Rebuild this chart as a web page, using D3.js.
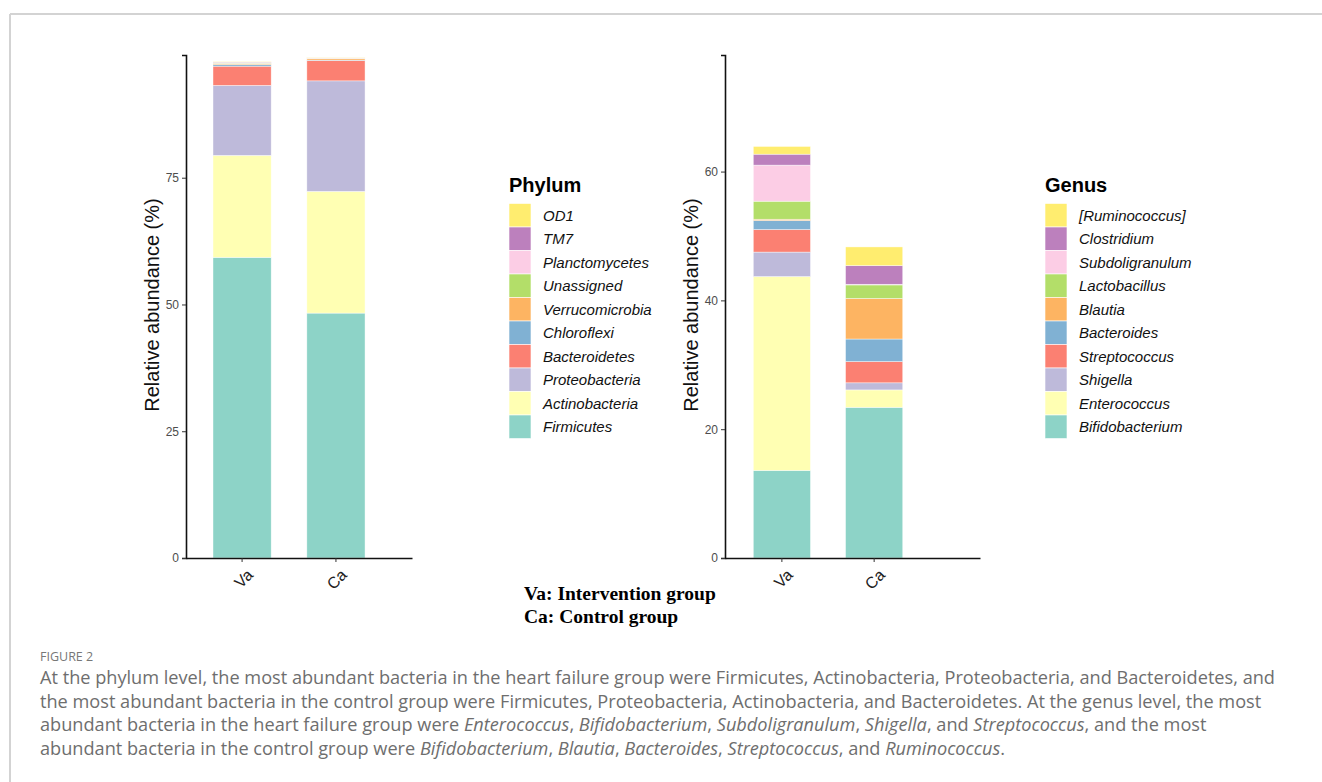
<!DOCTYPE html>
<html>
<head>
<meta charset="utf-8">
<script src="https://cdn.jsdelivr.net/npm/d3@7"></script>
<style>
  body { margin: 0; background: #fff; }
  svg { display: block; }
</style>
</head>
<body>
<svg width="1322" height="782"></svg>
<script>
var width = 1322;
var height = 782;

// groups on the x axis
var groups = ["Va", "Ca"];

// phylum level, bottom to top of the stack
var phyla = ["Firmicutes", "Actinobacteria", "Proteobacteria", "Bacteroidetes", "Chloroflexi",
             "Verrucomicrobia", "Unassigned", "Planctomycetes", "TM7", "OD1"];
var phylumVa = [59.3, 20.1, 13.8, 3.8, 0.3, 0.2, 0.1, 0.1, 0.1, 0.1];
var phylumCa = [48.3, 24.0, 21.8, 4.0, 0.1, 0.3, 0.05, 0.05, 0.05, 0.1];
var phylumTicks = [0, 25, 50, 75];

// genus level, bottom to top of the stack
var genera = ["Bifidobacterium", "Enterococcus", "Shigella", "Streptococcus", "Bacteroides",
              "Blautia", "Lactobacillus", "Subdoligranulum", "Clostridium", "[Ruminococcus]"];
var genusVa = [13.6, 30.1, 3.8, 3.5, 1.4, 0.2, 2.8, 5.6, 1.7, 1.2];
var genusCa = [23.4, 2.7, 1.1, 3.3, 3.5, 6.3, 2.1, 0.1, 2.9, 2.9];
var genusTicks = [0, 20, 40, 60];

var palette = ["#8DD3C7", "#FFFFB3", "#BEBADA", "#FB8072", "#80B1D3",
               "#FDB462", "#B3DE69", "#FCCDE5", "#BC80BD", "#FFED6F"];

var svg = d3.select("svg");

// page frame
svg.append("line").attr("x1", 10).attr("x2", width).attr("y1", 14).attr("y2", 14)
    .attr("stroke", "#d3d3d3").attr("stroke-width", 2);
svg.append("line").attr("x1", 10).attr("x2", 10).attr("y1", 14).attr("y2", height)
    .attr("stroke", "#d3d3d3").attr("stroke-width", 2);

function drawPanel(opts) {
    var keys = opts.keys;
    var rows = groups.map(function (g, i) {
        var row = { group: g };
        keys.forEach(function (k, j) { row[k] = opts.values[i][j]; });
        return row;
    });
    var color = d3.scaleOrdinal().domain(keys).range(palette);

    var x = d3.scaleBand().domain(groups)
        .range([opts.left, opts.right])
        .paddingInner(0.38).paddingOuter(opts.outer).align(opts.align);
    var y = d3.scaleLinear().domain([0, opts.ymax]).range([558, 55]);

    var g = svg.append("g");
    var stack = d3.stack().keys(keys)(rows);

    g.selectAll("g.layer")
        .data(stack)
        .enter()
        .append("g")
        .attr("class", "layer")
        .attr("fill", function (d) { return color(d.key); })
        .selectAll("rect")
        .data(function (d) { return d; })
        .enter()
        .append("rect")
        .attr("x", function (d) { return x(d.data.group); })
        .attr("width", x.bandwidth())
        .attr("y", function (d) { return y(d[1]); })
        .attr("height", function (d) { return Math.max(0, y(d[0]) - y(d[1])); })
        .attr("stroke", "#ffffff")
        .attr("stroke-opacity", 0.7)
        .attr("stroke-width", 0.6);

    // y axis
    var yAxis = g.append("g")
        .attr("transform", "translate(" + opts.left + ",0)")
        .call(d3.axisLeft(y).tickValues(opts.ticks).tickSize(4).tickPadding(3));
    yAxis.select(".domain").attr("stroke", "#111").attr("stroke-width", 1.6);
    yAxis.selectAll(".tick line").attr("stroke", "#333");
    yAxis.selectAll(".tick text").attr("fill", "#4d4d4d")
        .attr("font-family", "Liberation Sans, Arial, sans-serif").attr("font-size", "12px");

    // x axis
    var xAxis = g.append("g")
        .attr("transform", "translate(0,558)")
        .call(d3.axisBottom(x).tickSize(4).tickSizeOuter(0));
    xAxis.select(".domain").attr("stroke", "#111").attr("stroke-width", 1.6);
    xAxis.selectAll(".tick line").attr("stroke", "#333");
    xAxis.selectAll(".tick text")
        .attr("fill", "#222")
        .attr("font-family", "Liberation Sans, Arial, sans-serif")
        .attr("font-size", "16px")
        .attr("text-anchor", "end")
        .attr("dy", null)
        .attr("y", 0)
        .attr("transform", "translate(4,10) rotate(-45)")
        .attr("dominant-baseline", "hanging");

    // y axis title
    g.append("text")
        .attr("transform", "translate(" + opts.titleX + ",305) rotate(-90)")
        .attr("text-anchor", "middle")
        .attr("dominant-baseline", "central")
        .attr("font-family", "Liberation Sans, Arial, sans-serif")
        .attr("font-size", "20px")
        .attr("fill", "#111")
        .text("Relative abundance (%)");

    // legend
    var lg = svg.append("g").attr("transform", "translate(" + opts.legendX + ",0)");
    lg.append("text")
        .attr("x", 0).attr("y", 192)
        .attr("font-family", "Liberation Sans, Arial, sans-serif")
        .attr("font-size", "20px").attr("font-weight", "bold").attr("fill", "#000")
        .text(opts.legendTitle);
    var items = keys.slice().reverse();
    var step = 23.5;
    lg.selectAll("rect.key")
        .data(items)
        .enter()
        .append("rect")
        .attr("class", "key")
        .attr("x", 0)
        .attr("y", function (d, i) { return 203.5 + i * step; })
        .attr("width", 22)
        .attr("height", step)
        .attr("fill", function (d) { return color(d); })
        .attr("stroke", "#fff").attr("stroke-width", 0.6);
    lg.selectAll("text.lab")
        .data(items)
        .enter()
        .append("text")
        .attr("class", "lab")
        .attr("x", opts.labelDx)
        .attr("y", function (d, i) { return 203.5 + i * step + step / 2; })
        .attr("dominant-baseline", "central")
        .attr("font-family", "Liberation Sans, Arial, sans-serif")
        .attr("font-size", "15px").attr("font-style", "italic").attr("fill", "#111")
        .text(function (d) { return d; });
}

drawPanel({
    keys: phyla, values: [phylumVa, phylumCa], ticks: phylumTicks, ymax: 99.2,
    left: 186, right: 412, outer: 0.394, align: 0.365, titleX: 152,
    legendX: 509, labelDx: 34, legendTitle: "Phylum"
});
drawPanel({
    keys: genera, values: [genusVa, genusCa], ticks: genusTicks, ymax: 78.1,
    left: 725, right: 980, outer: 0.572, align: 0.268, titleX: 691,
    legendX: 1045, labelDx: 34, legendTitle: "Genus"
});

// group key
var groupNotes = ["Va: Intervention group", "Ca: Control group"];
svg.selectAll("text.note")
    .data(groupNotes)
    .enter()
    .append("text")
    .attr("class", "note")
    .attr("x", 524)
    .attr("y", function (d, i) { return 600 + i * 23; })
    .attr("font-family", "Liberation Serif, Times New Roman, serif")
    .attr("font-size", "19.5px").attr("font-weight", "bold").attr("fill", "#000")
    .text(function (d) { return d; });

// caption
svg.append("text")
    .attr("x", 40).attr("y", 661)
    .attr("font-family", "Open Sans, sans-serif")
    .attr("font-size", "12.5px").attr("fill", "#777")
    .text("FIGURE 2");

var captionLines = [
    [["At the phylum level, the most abundant bacteria in the heart failure group were Firmicutes, Actinobacteria, Proteobacteria, and Bacteroidetes, and", false]],
    [["the most abundant bacteria in the control group were Firmicutes, Proteobacteria, Actinobacteria, and Bacteroidetes. At the genus level, the most", false]],
    [["abundant bacteria in the heart failure group were ", false], ["Enterococcus", true], [", ", false], ["Bifidobacterium", true], [", ", false],
     ["Subdoligranulum", true], [", ", false], ["Shigella", true], [", and ", false], ["Streptococcus", true], [", and the most", false]],
    [["abundant bacteria in the control group were ", false], ["Bifidobacterium", true], [", ", false], ["Blautia", true], [", ", false],
     ["Bacteroides", true], [", ", false], ["Streptococcus", true], [", and ", false], ["Ruminococcus", true], [".", false]]
];

var captionTexts = captionLines.map(function (parts, i) {
    var t = svg.append("text")
        .attr("x", 40).attr("y", 684 + i * 23.6)
        .attr("font-family", "Open Sans, sans-serif")
        .attr("font-size", "16.5px").attr("fill", "#6e6e6e");
    parts.forEach(function (p) {
        t.append("tspan").attr("font-style", p[1] ? "italic" : "normal").text(p[0]);
    });
    return t;
});
// one font size for all lines, fitted so the first line spans like the reference
var firstWidth = captionTexts[0].node().getComputedTextLength();
var captionSize = (16.5 * 1236 / firstWidth).toFixed(2) + "px";
captionTexts.forEach(function (t) { t.attr("font-size", captionSize); });
</script>
</body>
</html>
